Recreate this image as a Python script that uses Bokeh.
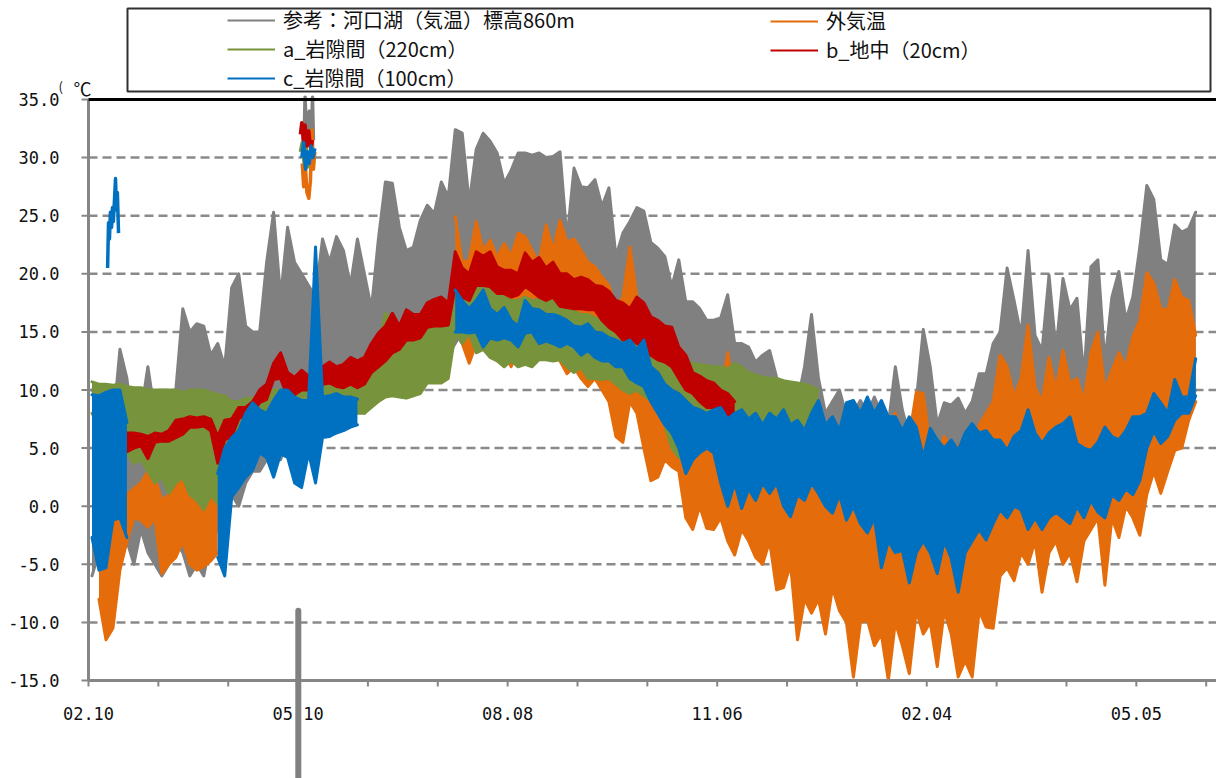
import numpy as np
from bokeh.plotting import figure
from bokeh.models import Range1d, Legend, LegendItem, BoxAnnotation
from bokeh.core.properties import value
from bokeh.embed import file_html
from bokeh.resources import INLINE

# ---------------- data (days since 02.10; 3-day bins of daily high / low) ----------------
BIN_DAYS = 3

X_TICK_DAYS = [0, 90, 180, 270, 360, 450]
X_TICK_LABELS = ["02.10", "05.10", "08.08", "11.06", "02.04", "05.05"]
X_MINOR_DAYS = [30, 60, 120, 150, 210, 240, 300, 330, 390, 420, 480]
Y_TICKS = [-15, -10, -5, 0, 5, 10, 15, 20, 25, 30, 35]
Y_TICK_LABELS = ["-15.0", "-10.0", "-5.0", "0.0", "5.0", "10.0", "15.0", "20.0", "25.0", "30.0", "35.0"]
X_END_DAY = 484

NAMES = ["参考：河口湖（気温）標高860m", "外気温", "a_岩隙間（220cm）",
         "b_地中（20cm）", "c_岩隙間（100cm）"]

GRAY_START = 0
GRAY_HI = [10, 9, 8, 7, 13.5, 11, 6, 8, 12, 8,
           9, 7, 10, 17, 15, 15.7, 15.5, 13, 14, 12,
           18.8, 20, 15.5, 15, 15, 21, 25.3, 18, 24, 21,
           20, 19, 18, 23, 21, 23.2, 22, 19, 23, 20,
           17, 23, 27.9, 27.8, 24, 22, 22.3, 24.6, 25.9, 25.2,
           27.9, 26.6, 32.4, 32.1, 26.1, 30.7, 32.1, 31.4, 30.4, 27.8,
           28.9, 30.4, 30.4, 30.2, 30.4, 30, 30.1, 30.5, 23, 29.1,
           27.5, 27.4, 28.1, 25.8, 27.4, 21.5, 23.5, 24.5, 25.7, 25.4,
           22.7, 22.2, 21.5, 18.9, 21.2, 17.6, 17.6, 17, 16, 16,
           16.2, 18.2, 14, 14, 13.7, 12.4, 13, 13.4, 11.1, 9.7,
           10, 9, 12, 16.5, 11, 8, 9, 10, 7.8, 8,
           9.1, 8, 9.4, 8, 7, 12, 8.3, 6, 9, 15.2,
           12, 7, 8.9, 8.7, 9.3, 8, 9, 11.4, 11.4, 14,
           15, 20.5, 17.7, 14.7, 22, 14.7, 13.4, 19.9, 13.4, 19.6,
           16.9, 17.9, 11.1, 20.6, 21.2, 12.4, 18, 20.2, 16, 18,
           22.3, 27.6, 26.4, 21.2, 20.8, 24.2, 23.6, 23.9, 25.3]
GRAY_LO = [-6, -4, -3, -8, -5, -3, -5, -2, -4, -5,
           -6, -5, -3, -4, -6, -5, -6, -3, -2, 0,
           1, 0, 2, 3, 3, 4, 5, 4, 6, 5,
           6, 7, 6, 7, 6, 8, 7, 8, 9, 8,
           9, 10, 10, 11, 11, 12, 11, 12, 12, 13,
           13, 13, 14, 15, 14, 15, 15, 16, 15, 16,
           15, 16, 15, 16, 15, 15, 14, 15, 13, 14,
           14, 13, 13, 12, 12, 11, 11, 10, 10, 9,
           9, 8, 8, 7, 6, 6, 5, 4, 3, 2,
           2, 1, 0, 1, -1, 0, -2, -1, -3, -2,
           -3, -1, -4, -5, -4, -6, -5, -7, -6, -8,
           -9.6, -7, -9.8, -8, -7, -6, -8, -7, -7.5, -6,
           -5, -6, -7, -6, -5, -6, -5, -4, -5, -3,
           -4, -2, -3, -1, -2, 0, -1, 0, -1, 1,
           0, 1, 0, 2, 1, 2, 3, 2, 3, 4,
           3, 5, 6, 5, 7, 8, 7, 9, 10]

ORANGE1_START = 1
ORANGE1_HI = [-4, -1, -2, 0, 1, 1.5, 2, 3, 2.5, 0.5, 1, 2.5, 2, 3, 1, 9.7, 1, 0]
ORANGE1_LO = [-8, -11.5, -10.5, -5.5, -3, -1, -1.2, -1.8, -1, -5.8, -5, -4.4, -3, -5, -5.5, -5.2, -4.7, -4]
ORANGE2_START = 52
ORANGE2_HI = [24.9, 21, 21.2, 24.5, 22, 22.9, 21.4, 22.6,
              21.5, 23.5, 23.2, 22, 21, 24.2, 22, 24.6, 22.7, 23,
              22, 21, 20.6, 19.7, 19, 17, 18, 22.3, 18, 17.1,
              15, 14, 13, 12, 11, 10, 8.5, 9, 8, 7,
              9, 13.2, 9, 7, 8, 6, 7, 5, 6, 4,
              5, 3, 6, 5, 4, 3, 5, 4, 2, 3.4,
              4, 7, 5, 8, 4, 8, 3, 6, 9.8, 9.7,
              5, 4, 6, 5, 5.1, 6, 5, 7, 8, 9,
              13, 12, 9.4, 11, 15.6, 10.2, 9, 12.8, 10, 13.4,
              10.6, 11, 9, 13.2, 15, 10, 11.7, 13.2, 12, 14.6,
              16, 20.1, 19.2, 17, 16.9, 19.5, 18, 17.7, 14.7]
ORANGE2_LO = [15, 14, 12.3, 14, 14.9, 14, 15, 13.5,
              12, 13.5, 14, 13, 13, 14, 13, 12.5, 11.4, 12,
              11, 10.3, 11, 10, 9, 6, 5.5, 9, 8, 5,
              2.2, 2.5, 4, 3.4, 3, -1, -2, 0, -1.9, -2,
              -1, -3, -4.2, -2, -3, -4.4, -5, -3, -7.2, -7,
              -5, -11.5, -8, -9.2, -8, -11, -7, -9, -10, -14.7,
              -10, -9.8, -12, -11, -15, -10, -12, -14.4, -9, -11,
              -10, -13.8, -9, -11, -14.7, -13.3, -14.7, -9, -10.4, -10.5,
              -6, -5.3, -6.4, -4, -5, -3, -7.4, -4, -3, -5,
              -4, -6.5, -3, -2, -1, -6.8, -1, -2.7, 0, -1,
              -2.5, 1, 3, 1.1, 3, 4.8, 5, 7.4, 9]

GREEN_START = 0
GREEN_HI = [10.7, 10.5, 10.5, 10.4, 10.5, 10.3, 10.2, 10.2, 10, 10,
            10, 10, 10, 9.8, 10, 10, 10, 9.8, 9.6, 9.5,
            9, 9, 9.3, 9.3, 9.5, 9.7, 10, 10, 10, 10.2,
            10.3, 10.3, 10.4, 10.4, 10.5, 10.5, 10.6, 10.6, 10.6, 11,
            12, 14, 16.6, 16, 14, 14.3, 14, 14.3, 17, 17.7,
            16.3, 17, 20, 19.5, 19.5, 19, 19.5, 18.9, 18.5, 18,
            17.7, 17.7, 18, 17.7, 17.8, 17.5, 17.7, 17.3, 17.1, 16.8,
            16.5, 16.5, 16.2, 16, 15.7, 15.4, 15, 15.2, 14.9, 14.5,
            13.4, 13, 12.8, 12.6, 12.5, 12.3, 12.3, 12.2, 12.1, 12,
            12, 11.8, 12.3, 12, 11.5, 11.3, 11.1, 11, 11, 10.8,
            10.7, 10.6, 10.5, 10.3, 10]
GREEN_LO = [8, 7, 6, 6, 5, 4.5, 3.7, 4, 3, 2,
            2.5, 1.1, 2, 2.5, 1, 0.5, -0.3, 1, 0.2, 2,
            3, 5, 7, 8, 8, 8, 8.5, 8.5, 8.5, 9,
            9, 8.5, 8.6, 8.7, 8.8, 8.8, 8.9, 8.5, 8, 8,
            8.5, 9, 9.4, 9.5, 9.4, 9.3, 9.5, 9.7, 10.6, 10.6,
            10.6, 11, 14.9, 14, 14.9, 13.2, 13.5, 12.8, 12.5, 12,
            12.5, 12, 12.2, 12, 12.6, 12.6, 12.5, 12.6, 12, 11.5,
            12, 11, 11, 10.9, 11, 10.5, 10, 9.7, 10, 9.5,
            9.1, 9, 7, 5, 4.2, 7, 8, 8, 7.5, 7.5,
            7, 7, 6, 4.2, 6, 7, 7.5, 7, 6.5, 7,
            6.5, 5.4, 7, 7.5, 8]

RED_START = 5
RED_HI = [6.3, 6.3, 6.2, 6, 6.3,
          6.2, 6.5, 7.4, 7.5, 7.7, 7.6, 7.7, 7.5, 6, 7.4,
          7.5, 8.5, 8.5, 9, 10, 10.5, 12.3, 13.2, 11.5, 11.1,
          11.7, 11.2, 11.5, 12, 12.4, 12, 12.2, 12.8, 12.5, 12.8,
          14, 14.9, 15.5, 16.6, 15.5, 16.9, 16.5, 16.5, 17.5, 17.8,
          18, 17.5, 21.9, 20.5, 20, 21.9, 21.5, 21.9, 20.6, 20.3,
          20.3, 20, 21.8, 21, 21.4, 20.5, 21, 20, 20, 19.5,
          19.7, 19.5, 19, 18.9, 18.5, 17.7, 17.5, 17, 18, 17.5,
          16.3, 16, 15.5, 15.4, 13.7, 13, 11.5, 11.2, 10.8, 10.6,
          10, 9.7, 9]
RED_LO = [4.7, 5, 5.2, 4.1, 5.5,
          5.6, 5.6, 5.9, 6.2, 6.8, 6.8, 6.9, 6.5, 3.7, 5.7,
          6, 7.5, 8, 8, 8.9, 9.2, 10.9, 11, 9.4, 9.6,
          10, 10, 10.2, 10.5, 10.6, 10.3, 10.2, 10.5, 10.2, 10.5,
          11.5, 12, 12.5, 13.2, 13.5, 14.3, 14.3, 14.5, 15.4, 15.5,
          15.5, 15.6, 18.9, 18, 17.7, 19, 19, 18.9, 18.3, 18.3,
          18, 18.2, 18.9, 18.5, 18, 17.7, 18, 17.2, 17.1, 17,
          17, 16.9, 16.9, 16, 15.4, 15, 14.3, 14.5, 14, 13.7,
          13, 12.6, 12.4, 12, 11, 10, 9.7, 9, 8.5, 8.5,
          8, 7, 6.3]

BLUE1_START = 0
BLUE1_HI = [9.6, 9.5, 9.8, 10, 10, 7.2]
BLUE1_LO = [-2.7, -5.5, -5.3, -1.2, -1, -2.7]
BLUE2_START = 18
BLUE2_HI = [2.8, 5, 5.9, 6.5, 8, 8.9, 8.3, 8, 9.1, 10, 10, 9.4, 9.1, 9.1,
            22.3, 9.4, 9.5, 9.7, 9.4, 9.4, 9.2]
BLUE2_LO = [-4.4, -6, 0.8, 1.6, 2.5, 3.1, 4.6, 4.2, 2.5, 4.5, 4.2, 2, 1.6, 4.6,
            2, 5.9, 6, 6.3, 6.5, 6.8, 7]
BLUE3_START = 52
BLUE3_HI = [18.6, 17.7, 17, 17.7, 18.6, 17, 16.5, 17.1,
            16, 15.5, 17.7, 17, 16.9, 16.5, 16.5, 16.3, 16, 15.5,
            15.4, 15.7, 15, 14.9, 14.5, 14.3, 14, 14.3, 13.5, 14.3,
            12, 11.5, 10.5, 10, 9.7, 9.1, 8.5, 8.3, 8, 8.3,
            8.5, 7.5, 8, 8.3, 7.5, 8, 7, 8, 7.5, 8.3,
            7, 7.4, 6.5, 8, 9.1, 7, 7.7, 6.5, 8.9, 9.1,
            8, 9.4, 8, 9.1, 7.7, 7.7, 6.5, 7.7, 6.8, 4.2,
            6.7, 5.7, 5, 5.7, 4.8, 6.3, 7.1, 6.3, 6.5, 5.7,
            5.7, 4.8, 6, 6.5, 8.3, 6.3, 5.4, 6.3, 6.8, 7.1,
            7.7, 5.4, 5, 4.8, 5.5, 6.8, 6, 5.7, 6.5, 7.7,
            7.7, 8, 9.7, 8.9, 8, 10.9, 9.4, 9.4, 12.7]
BLUE3_LO = [15, 15, 14.9, 15, 13.7, 14.5, 14.3, 14.5,
            14.3, 13.7, 14.9, 15, 14, 14.2, 14, 13.7, 14, 13.7,
            13, 13.4, 12.8, 12.5, 12.5, 12, 12, 11, 10.6, 10.3,
            9, 8, 7, 6.3, 5, 2.8, 4, 4.6, 5, 4.6,
            2, 0, 2, -0.2, 1.5, 0.5, 2, 1.1, 2, 0,
            -0.9, 1, 0.5, 2, 1.1, 0, -0.6, 1, -1.2, 0,
            -1.5, -2.3, -1, -5.3, -3, -4, -3.8, -6.6, -4, -3,
            -4, -5.8, -3, -4.5, -7.4, -4, -3, -2, -2.9, -1.5,
            -0.3, -1, 0, -0.3, -2, -1, -2, -1, -0.5, -1,
            -1.5, 0, -1, 0.5, -0.5, -1, 1, 0.5, 1.5, 1,
            2.2, 5, 6.5, 5.4, 6, 7.4, 8, 8, 9.5]

# short bursts of readings (sensor glitches) given as (day, value)
BLUE_SPIKE_D = [8.2, 8.6, 9.0, 9.4, 9.9, 10.3, 10.7, 11.6, 12.0, 12.4, 12.9]
BLUE_SPIKE_V = [20.5, 24.4, 23, 25.3, 24, 25.7, 24.5, 28.2, 25.5, 27, 23.5]
GLITCH_GRAY_D = [92.5, 93.0, 93.6, 94.8, 95.6, 96.2, 96.6]
GLITCH_GRAY_V = [30.5, 35.2, 32, 34, 31, 35.2, 31.5]
GLITCH_ORANGE_D = [91.8, 92.4, 93.0, 93.8, 94.6, 95.3, 96.0, 96.6, 97.2]
GLITCH_ORANGE_V = [29.5, 27.5, 29.8, 27, 26.5, 28, 32.4, 29, 30.5]
GLITCH_GREEN_D = [91.0, 91.8, 92.6, 93.4, 94.2, 95.0, 95.8, 96.6]
GLITCH_GREEN_V = [30.5, 31.3, 29.5, 31, 29.2, 30.5, 30.8, 30.2]
GLITCH_RED_D = [91.0, 91.6, 92.2, 93.0, 93.8, 94.6, 95.4, 96.2]
GLITCH_RED_V = [32, 33, 31.5, 32.8, 31, 32.3, 30.7, 31.5]
GLITCH_BLUE_D = [91.6, 92.4, 93.2, 94.0, 94.8, 95.6, 96.4, 97.2]
GLITCH_BLUE_V = [30, 31.3, 29, 30.5, 29.5, 31, 30, 30.8]
GRAY_DROP_DAY = 90.1
GRAY_DROP_TOP = -9
GRAY_DROP_BOTTOM = -45

GRAY, ORANGE, GREEN, RED, BLUE = "#808080", "#E46C0A", "#77933C", "#C00000", "#0070C0"
AXIS_GRAY = "#868686"
GRID_GRAY = "#8a8a8a"
TEXT = "#111111"

# ---------------- layout (pixels) ----------------
W, H = 1216, 778
PLOT_LEFT, PLOT_RIGHT = 88, 1215            # canvas columns of day 0 and of X_END_DAY
AXIS_TOP_PX, AXIS_BOTTOM_PX = 99, 680       # canvas rows of 35.0 and -15.0
PX_PER_DAY = (PLOT_RIGHT - PLOT_LEFT) / X_END_DAY
PX_PER_UNIT = (AXIS_BOTTOM_PX - AXIS_TOP_PX) / (Y_TICKS[-1] - Y_TICKS[0])
X_LO = -PLOT_LEFT / PX_PER_DAY
X_HI = X_END_DAY + (W - PLOT_RIGHT) / PX_PER_DAY
Y_LO = Y_TICKS[0] - (H - AXIS_BOTTOM_PX) / PX_PER_UNIT
Y_HI = Y_TICKS[-1] + AXIS_TOP_PX / PX_PER_UNIT
Y_BOT, Y_TOP = Y_TICKS[0], Y_TICKS[-1]


def dx(px):
    return px / PX_PER_DAY


def dy(px):
    return px / PX_PER_UNIT


def segment_band(start_bin, hi, lo):
    x = [(start_bin + i) * BIN_DAYS + BIN_DAYS / 2 for i in range(len(hi))]
    return x, hi, lo


p = figure(width=W, height=H, output_backend="svg", toolbar_location=None,
           x_range=Range1d(X_LO, X_HI), y_range=Range1d(Y_LO, Y_HI),
           x_axis_location=None, y_axis_location=None,
           min_border_left=0, min_border_right=0, min_border_top=0, min_border_bottom=0)
p.outline_line_color = None
p.background_fill_color = "white"
p.border_fill_color = "white"
p.grid.visible = False

# horizontal dashed grid
grid_levels = Y_TICKS[1:-1]
p.segment(x0=[0] * len(grid_levels), y0=grid_levels, x1=[X_HI] * len(grid_levels), y1=grid_levels,
          line_color=GRID_GRAY, line_width=2.5, line_dash="9 5")


def draw_series(color, bands, glitches):
    for (x, hi, lo) in bands:
        p.varea(x=x, y1=lo, y2=hi, fill_color=color)
        p.line(x, hi, line_color=color, line_width=3, line_join="round", line_cap="round")
        p.line(x, lo, line_color=color, line_width=3, line_join="round", line_cap="round")
    for (gx, gy) in glitches:
        p.line(gx, gy, line_color=color, line_width=3.5, line_join="round")


draw_series(GRAY, [segment_band(GRAY_START, GRAY_HI, GRAY_LO)], [(GLITCH_GRAY_D, GLITCH_GRAY_V)])
draw_series(ORANGE, [segment_band(ORANGE1_START, ORANGE1_HI, ORANGE1_LO),
                     segment_band(ORANGE2_START, ORANGE2_HI, ORANGE2_LO)],
            [(GLITCH_ORANGE_D, GLITCH_ORANGE_V)])
draw_series(GREEN, [segment_band(GREEN_START, GREEN_HI, GREEN_LO)], [(GLITCH_GREEN_D, GLITCH_GREEN_V)])
draw_series(RED, [segment_band(RED_START, RED_HI, RED_LO)], [(GLITCH_RED_D, GLITCH_RED_V)])
draw_series(BLUE, [segment_band(BLUE1_START, BLUE1_HI, BLUE1_LO),
                   segment_band(BLUE2_START, BLUE2_HI, BLUE2_LO),
                   segment_band(BLUE3_START, BLUE3_HI, BLUE3_LO)],
            [(BLUE_SPIKE_D, BLUE_SPIKE_V), (GLITCH_BLUE_D, GLITCH_BLUE_V)])

# y axis
p.segment(x0=[0], y0=[Y_BOT], x1=[0], y1=[Y_TOP], line_color=AXIS_GRAY, line_width=3)
p.segment(x0=[-dx(7)] * len(Y_TICKS), y0=Y_TICKS, x1=[0] * len(Y_TICKS), y1=Y_TICKS,
          line_color=AXIS_GRAY, line_width=2)
p.text(x=[-dx(29)] * len(Y_TICKS), y=Y_TICKS, text=Y_TICK_LABELS,
       text_font=value("DejaVu Sans Mono"), text_font_size="17px", text_color=TEXT,
       text_align="right", text_baseline="middle")

# x axis
p.segment(x0=[0], y0=[Y_BOT], x1=[X_HI], y1=[Y_BOT], line_color=AXIS_GRAY, line_width=3)
all_ticks = X_TICK_DAYS + X_MINOR_DAYS
p.segment(x0=all_ticks, y0=[Y_BOT] * len(all_ticks), x1=all_ticks,
          y1=[Y_BOT - dy(6)] * len(all_ticks), line_color=AXIS_GRAY, line_width=2)
p.text(x=X_TICK_DAYS, y=[Y_BOT - dy(33)] * len(X_TICK_DAYS), text=X_TICK_LABELS,
       text_font=value("DejaVu Sans Mono"), text_font_size="17px", text_color=TEXT,
       text_align="center", text_baseline="middle")

# top border line
p.segment(x0=[0], y0=[Y_TOP], x1=[X_HI], y1=[Y_TOP], line_color="black", line_width=3)

# unit
p.text(x=[-dx(30)], y=[Y_TOP + dy(23)], text=["("], text_font=value("Noto Sans CJK JP"),
       text_font_size="13px", text_color=TEXT, text_baseline="top")
p.text(x=[-dx(15)], y=[Y_TOP + dy(25)], text=["℃"], text_font=value("Noto Sans CJK JP"),
       text_font_size="18px", text_color=TEXT, text_baseline="top")

# out-of-range reading below the axis
p.segment(x0=[GRAY_DROP_DAY], y0=[GRAY_DROP_TOP], x1=[GRAY_DROP_DAY], y1=[GRAY_DROP_BOTTOM],
          line_color=GRAY, line_width=6, line_cap="round")

# legend
leg_r = [p.line([np.nan], [np.nan], line_color=c, line_width=2) for c in (GRAY, ORANGE, GREEN, RED, BLUE)]
p.add_layout(BoxAnnotation(left=127, right=1210, top=H - 8, bottom=H - 91,
                           left_units="screen", right_units="screen",
                           top_units="screen", bottom_units="screen",
                           fill_alpha=0, line_color="#303030", line_width=2, line_alpha=1))


def make_legend(idx, loc):
    return Legend(items=[LegendItem(label=NAMES[i], renderers=[leg_r[i]]) for i in idx],
                  location=loc, orientation="vertical",
                  label_text_font="Noto Sans CJK JP", label_text_font_size="20px",
                  label_text_color=TEXT,
                  glyph_width=48, glyph_height=20, label_standoff=8, label_height=28,
                  spacing=0, padding=0, margin=0,
                  border_line_color=None, background_fill_alpha=0)


p.add_layout(make_legend([0, 2, 4], (227, H - 92)))
p.add_layout(make_legend([1, 3], (770, H - 64)))

open("out.html", "w").write(file_html(p, INLINE))
